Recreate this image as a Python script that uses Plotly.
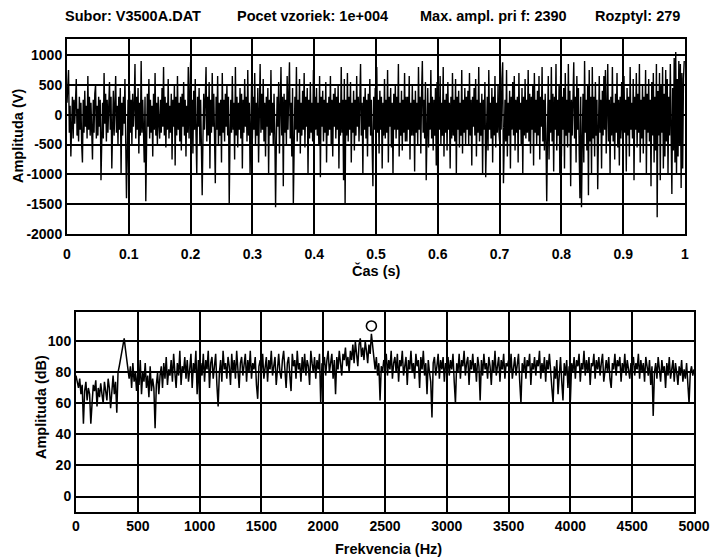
import plotly.graph_objects as go

# ---------------- data ----------------
time_step = 0.00125
signal_v = [
    200, 450, 750, -300, 150, -700, -200, 300, -400, 250, -150, 350, 600, -350, 100, -450, 300, -250, 200, -500,
    -800, 250, -300, 400, -200, 150, -400, 650, -250, 300, -350, 200, -150, -750, 250, -300, 350, 500, -400, 150,
    -350, 300, -200, 250, -1100, -300, 200, -400, 700, -150, 350, -450, 250, -300, 150, 550, -250, 300, -900, -200,
    400, -350, 200, 650, -300, 150, -500, 300, -250, 450, -1000, 200, -350, 300, -150, 600, -450, -1400, -600, 250,
    -1200, 400, -300, 250, -500, 350, -200, 150, 850, -400, 300, -250, 450, -650, 200, -350, 900, -300, 250, -450,
    -800, 300, -1450, -500, 350, -200, 600, -400, 250, -300, 150, -700, 350, -250, 700, -350, 200, -500, 300, -150,
    -400, 250, -300, 450, -200, 800, -350, 300, -550, 200, -250, 600, -400, 150, -300, 350, -750, 250, -200, 500,
    -850, 300, -350, 650, -250, 200, -450, 300, -600, 350, -200, 550, -350, 250, -700, 150, -300, 800, -400, 300,
    880, -300, 250, -650, 400, -250, 600, -350, -1000, 300, -200, 450, -500, 250, -300, -1350, -400, 350, -250, 200,
    800, -450, 300, -350, 550, -900, 250, -300, 700, -200, 350, -400, -1150, 300, -250, 650, -500, 200, -350, 250,
    -800, 700, -300, 250, -450, 350, -200, 500, -350, 300, -1500, -400, 250, -300, 650, -250, 200, -750, 800, -350,
    300, -550, 200, -250, 450, -400, 350, -900, 250, -300, 600, -200, 300, -450, 750, -350, 200, -1000, 250, 550,
    -400, 300, -250, 700, -500, 200, -350, 450, -800, 250, 850, -300, 350, -250, 600, -450, 200, -700, 300, -200,
    450, -1000, 250, -350, 750, -300, 200, -500, 350, -250, -1550, -450, 300, -200, 550, -650, 250, 800, -350, 300,
    -1200, 350, -300, 250, -500, 650, -250, 300, 880, -400, 200, -700, 450, -1500, -350, 300, -250, 800, -450, 250,
    -300, 600, -650, 200, -350, 400, -250, 700, -550, 300, -200, 450, -1000, 250, -400, 550, -300, 200, -450, 750,
    -600, 300, -250, 450, -350, 200, -500, 650, -1050, 300, -200, 400, -450, 250, -300, 550, -800, 200, -350, 300,
    -250, 650, -500, 250, -700, 350, -200, 450, -400, 300, -250, 500, -900, 200, -350, 800, -300, 250, -1100, 600,
    -1500, 250, -350, 700, -450, 300, -250, 550, -800, 200, -300, 400, -600, 250, -350, 650, -200, 300, -450, 500,
    850, -350, 200, -1000, 300, -250, 450, -400, 250, -700, 350, -200, 600, -350, 250, -500, -1200, 300, -250, 450,
    -500, 800, -300, 250, -650, 400, -250, 300, -900, 200, -350, 600, -400, 250, -300, 750, -800, 300, -200, 450,
    -550, 200, -1000, 350, -250, 500, -400, 300, -250, 850, -700, 200, -350, 400, -600, 250, -300, 700, -450, 300,
    -450, 300, -250, 650, -750, 200, -350, 500, -350, 250, -950, 400, -300, 200, -500, 800, -250, 300, -650, 350,
    900, -300, 250, -400, 550, -1100, -300, 450, -550, 200, -250, 750, -400, 300, -600, 250, -350, 450, -850, 550,
    -1300, 300, -250, 650, -500, 200, -350, 800, -700, 250, -300, 350, -600, 550, -250, 200, -900, 300, -400, 700,
    -350, 250, -450, 600, -1000, 300, -250, 400, -550, 200, -350, 750, -650, 250, -300, 450, -500, 300, -250, 400,
    -500, 700, -350, 250, -850, 300, -200, 450, -350, 600, -700, 250, -300, 800, -450, 200, -350, 350, -1000, 250,
    -250, 550, -1050, -400, 300, -600, 750, -250, 200, -400, 450, -800, 300, -350, 650, -550, 200, -300, 500, -250,
    -450, 300, -250, 600, 880, -1150, -300, 250, -450, 750, -700, 200, -350, 400, -900, 300, -250, 550, -350, 650,
    -600, 250, -300, 300, -800, 700, -250, 200, -500, 450, -1000, 300, -350, 600, -400, 250, -300, 750, -450, 350,
    -650, 300, -250, 500, -850, 700, -300, 250, -500, 400, -350, 650, -750, 300, -200, 800, -450, 250, -600, 350,
    -400, -1450, -350, 650, -750, 250, -300, 800, -450, 350, -950, 300, -250, 850, -600, 250, -350, 500, -1000, 650,
    -700, 300, -250, 450, -900, 700, -350, 250, -550, 850, -300, 400, -1200, 250, -350, 600, 880, -400, 300, -800,
    650, -250, 450, -600, -1400, 300, -1550, -500, 350, -800, 900, -300, 250, -600, 500, -1350, 750, -450, 300, -1000,
    800, -400, 300, -700, 550, -350, 250, -1250, -500, 650, -300, 250, -900, 400, -350, 650, -250, 750, -650, 300,
    850, -450, 250, -1000, 300, -350, 800, -450, 200, -750, 350, -300, 700, -550, 250, -850, 300, -400, 550, -250,
    -500, 650, -300, 250, -950, 450, -350, 300, -700, 800, -250, 200, -400, 600, -1100, 300, -250, 700, -550, 350,
    -300, 850, -800, 250, -400, 500, -650, 300, -250, 750, -1000, 350, -300, 600, -450, 250, -1200, 550, -350, 700,
    -800, 300, -600, 850, -1720, 400, -350, 700, -1100, 500, -300, 800, -900, 350, -700, 750, -450, 600, -1000, 300,
    -350, 850, -800, -1330, 450, -600, 950, -800, 1050, -1000, 600, -700, 900, -500, 850, -1230, 700, -900, 600, 900,
]
time_s = [i * time_step for i in range(len(signal_v))]

freq_step = 10
spectrum_db = [
    78, 74, 70, 76, 66, 72, 47, 68, 74, 62, 70, 66, 47, 60, 72, 68, 75, 58, 70, 64, 73, 66, 60, 74, 68,
    62, 76, 70, 57, 72, 78, 66, 74, 54, 80, 84, 88, 92, 96, 102, 95, 88, 82, 76, 84, 70, 86, 74, 80, 68,
    82, 72, 88, 66, 80, 74, 86, 70, 78, 64, 84, 68, 76, 70, 44, 72, 80, 66, 78, 84, 70, 86, 76, 90, 72,
    82, 78, 88, 74, 92, 80, 70, 86, 78, 94, 72, 84, 80, 90, 76, 88, 74, 82, 92, 70, 86, 80, 94, 66, 88,
    62, 86, 78, 92, 74, 88, 82, 94, 70, 86, 90, 76, 84, 92, 72, 58, 80, 88, 74, 94, 82, 86, 76, 90, 84,
    72, 92, 80, 88, 76, 94, 82, 70, 86, 90, 78, 84, 92, 74, 88, 80, 94, 76, 86, 82, 90, 72, 63, 84, 88,
    80, 92, 76, 86, 90, 74, 88, 82, 94, 78, 84, 90, 72, 86, 92, 80, 76, 88, 94, 82, 70, 86, 90, 78, 68,
    92, 84, 88, 76, 94, 82, 86, 74, 90, 80, 92, 78, 88, 84, 72, 94, 86, 80, 90, 76, 88, 82, 92, 60, 86,
    84, 90, 78, 88, 94, 80, 86, 92, 76, 88, 66, 90, 82, 94, 86, 78, 92, 88, 96, 84, 90, 80, 94, 88, 98,
    86, 100, 92, 84, 98, 102, 90, 96, 88, 100, 94, 86, 98, 92, 105, 96, 88, 82, 90, 78, 86, 62, 84, 80, 88,
    86, 92, 78, 88, 82, 94, 76, 86, 90, 80, 92, 74, 88, 84, 94, 78, 86, 90, 72, 88, 82, 94, 80, 86, 76,
    92, 84, 88, 70, 90, 82, 94, 78, 86, 66, 88, 80, 74, 51, 86, 90, 78, 84, 92, 76, 88, 82, 90, 74, 86,
    84, 90, 78, 88, 82, 92, 74, 60, 86, 80, 92, 76, 88, 84, 94, 78, 86, 90, 72, 88, 82, 92, 80, 86, 74,
    90, 84, 62, 88, 78, 92, 82, 86, 76, 90, 84, 72, 88, 80, 94, 78, 86, 90, 74, 88, 82, 92, 76, 86, 84,
    88, 80, 92, 76, 86, 90, 78, 84, 92, 74, 60, 86, 80, 90, 76, 88, 84, 92, 72, 86, 82, 90, 78, 88, 84,
    94, 76, 86, 80, 90, 74, 88, 82, 92, 78, 70, 60, 84, 76, 88, 66, 82, 90, 74, 62, 86, 78, 88, 70, 84,
    62, 86, 80, 90, 76, 88, 84, 92, 74, 86, 82, 94, 78, 88, 80, 90, 72, 86, 84, 92, 76, 88, 82, 90, 78,
    86, 92, 74, 84, 88, 80, 90, 76, 70, 86, 82, 92, 78, 88, 84, 90, 74, 86, 80, 92, 78, 88, 82, 76, 86,
    84, 90, 78, 86, 82, 92, 76, 88, 80, 86, 74, 90, 82, 78, 88, 72, 84, 52, 80, 86, 76, 90, 82, 74, 88,
    80, 84, 70, 86, 78, 90, 76, 82, 88, 74, 86, 80, 72, 84, 78, 88, 74, 82, 76, 86, 70, 60, 80, 84, 78,
    82,
]
freq_hz = [i * freq_step for i in range(len(spectrum_db))]

peak_freq = [2390]
peak_db = [110]

time_ticks = [0, 0.1, 0.2, 0.3, 0.4, 0.5, 0.6, 0.7, 0.8, 0.9, 1]
time_tick_text = ["0", "0.1", "0.2", "0.3", "0.4", "0.5", "0.6", "0.7", "0.8", "0.9", "1"]
volt_ticks = [-2000, -1500, -1000, -500, 0, 500, 1000]
volt_tick_text = ["-2000", "-1500", "-1000", "-500", "0", "500", "1000"]
freq_ticks = [0, 500, 1000, 1500, 2000, 2500, 3000, 3500, 4000, 4500, 5000]
db_ticks = [0, 20, 40, 60, 80, 100]

title_parts = ["Subor: V3500A.DAT", "Pocet vzoriek: 1e+004", "Max. ampl. pri f: 2390", "Rozptyl: 279"]

# ---------------- figure ----------------
FONT = "Liberation Sans, Arial, sans-serif"
W, H = 719, 560


def px(x):
    return x / W


def py(y):
    return 1 - y / H


fig = go.Figure()
fig.add_trace(go.Scatter(x=time_s, y=signal_v, mode="lines",
                         line=dict(color="black", width=1.4),
                         xaxis="x", yaxis="y", showlegend=False))
fig.add_trace(go.Scatter(x=freq_hz, y=spectrum_db, mode="lines",
                         line=dict(color="black", width=1.5),
                         xaxis="x2", yaxis="y2", showlegend=False))
fig.add_trace(go.Scatter(x=peak_freq, y=peak_db, mode="markers",
                         marker=dict(symbol="circle-open", size=10, color="black",
                                     line=dict(width=1.6)),
                         xaxis="x2", yaxis="y2", showlegend=False))

axis_common = dict(showline=True, linecolor="black", linewidth=2, mirror=True,
                   showgrid=True, gridcolor="black", gridwidth=1.6,
                   zeroline=False, ticks="", automargin=False,
                   tickfont=dict(family=FONT, size=14, color="black", weight="bold"))

fig.update_layout(
    width=W, height=H,
    margin=dict(l=0, r=0, t=0, b=0, autoexpand=False),
    paper_bgcolor="white", plot_bgcolor="white",
    xaxis=dict(domain=[px(67), px(685)], range=[0, 1], tickvals=time_ticks,
               ticktext=time_tick_text, anchor="y", ticklabelstandoff=6, **axis_common),
    yaxis=dict(domain=[py(234), py(39)], range=[-2000, 1270],
               tickvals=volt_ticks, ticktext=volt_tick_text, anchor="x", **axis_common),
    xaxis2=dict(domain=[px(76), px(694)], range=[0, 5000], tickvals=freq_ticks,
                anchor="y2", **axis_common),
    yaxis2=dict(domain=[py(512), py(312)], range=[-10, 119],
                tickvals=db_ticks, anchor="x2", **axis_common),
)

ann_font = dict(family=FONT, size=14.5, color="black", weight="bold")
title_x = [63, 235, 418, 593]
for txt, x0 in zip(title_parts, title_x):
    fig.add_annotation(text=txt, x=px(x0), y=py(16), xref="paper", yref="paper",
                       xanchor="left", yanchor="middle", showarrow=False, font=ann_font)

axis_titles = [
    ("Čas (s)", 377, 270, 0),
    ("Amplituda (V)", 18, 136, -90),
    ("Frekvencia (Hz)", 388, 549, 0),
    ("Amplituda (dB)", 41, 407, -90),
]
for txt, x0, y0, ang in axis_titles:
    fig.add_annotation(text=txt, x=px(x0), y=py(y0), xref="paper", yref="paper",
                       xanchor="center", yanchor="middle", showarrow=False,
                       textangle=ang, font=ann_font)

fig.write_html(
    "out.html",
    config={"displayModeBar": False},
    post_script="document.body.style.margin='0';document.body.style.overflow='hidden';",
)
